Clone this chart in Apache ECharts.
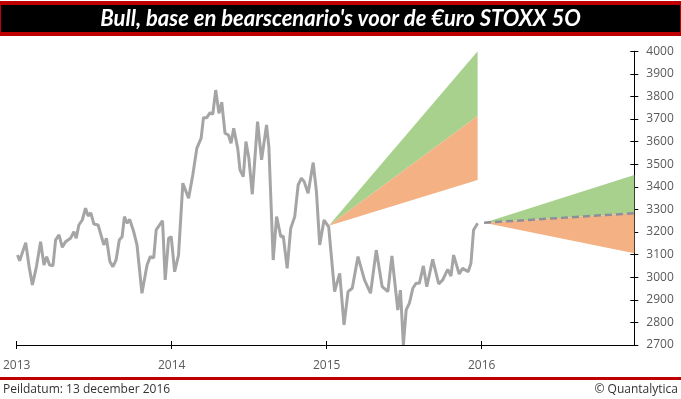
<!DOCTYPE html>
<html>
<head>
<meta charset="utf-8">
<script src="https://cdn.jsdelivr.net/npm/echarts@6/dist/echarts.min.js"></script>
<style>
  html, body { margin: 0; padding: 0; background: #fff; }
  #chart { width: 681px; height: 399px; }
</style>
</head>
<body>
<div id="chart"></div>
<script>
// historische koers (decimale jaren zoals op de as)
var histYears = [
  2013.005, 2013.019, 2013.058, 2013.080, 2013.101, 2013.127, 2013.154, 2013.176, 2013.193, 2013.212,
  2013.234, 2013.251, 2013.273, 2013.294, 2013.315, 2013.347, 2013.369, 2013.384, 2013.401, 2013.423,
  2013.444, 2013.461, 2013.478, 2013.498, 2013.525, 2013.547, 2013.562, 2013.579, 2013.601, 2013.620,
  2013.641, 2013.662, 2013.680, 2013.695, 2013.712, 2013.729, 2013.755, 2013.776, 2013.808, 2013.841,
  2013.862, 2013.884, 2013.900, 2013.941, 2013.958, 2013.980, 2013.997, 2014.019, 2014.044, 2014.072,
  2014.109, 2014.136, 2014.162, 2014.190, 2014.205, 2014.226, 2014.248, 2014.265, 2014.284, 2014.305,
  2014.323, 2014.344, 2014.366, 2014.383, 2014.400, 2014.426, 2014.441, 2014.462, 2014.479, 2014.498,
  2014.520, 2014.554, 2014.580, 2014.612, 2014.627, 2014.655, 2014.677, 2014.704, 2014.720, 2014.745,
  2014.768, 2014.794, 2014.816, 2014.837, 2014.855, 2014.880, 2014.913, 2014.934, 2014.955, 2014.983,
  2015.013, 2015.051, 2015.084, 2015.112, 2015.138, 2015.165, 2015.202, 2015.244, 2015.283, 2015.320,
  2015.358, 2015.395, 2015.421, 2015.459, 2015.476, 2015.495, 2015.513, 2015.534, 2015.556, 2015.577,
  2015.598, 2015.624, 2015.646, 2015.684, 2015.723, 2015.749, 2015.781, 2015.802, 2015.819, 2015.855,
  2015.877, 2015.913, 2015.931, 2015.948, 2015.974
];
var histValues = [
  3098, 3073, 3153, 3046, 2966, 3046, 3157, 3054, 3091, 3054,
  3051, 3165, 3187, 3132, 3157, 3172, 3201, 3172, 3231, 3253,
  3305, 3271, 3285, 3235, 3231, 3179, 3143, 3172, 3069, 3046,
  3076, 3165, 3179, 3268, 3239, 3256, 3201, 3143, 2929, 3054,
  3091, 3086, 3209, 3250, 2988, 3172, 3179, 3024, 3098, 3416,
  3349, 3452, 3570, 3615, 3706, 3706, 3728, 3721, 3828, 3725,
  3774, 3637, 3629, 3593, 3659, 3570, 3474, 3445, 3600, 3526,
  3367, 3688, 3519, 3674, 3577, 3076, 3268, 3179, 3182, 3039,
  3216, 3268, 3408, 3438, 3423, 3371, 3507, 3378, 3143, 3253,
  3223, 2936, 3017, 2789, 2936, 2951, 3091, 2988, 2929, 3120,
  2958, 2936, 3094, 2855, 2943, 2700, 2855, 2885, 2951, 2973,
  2973, 3050, 2958, 3079, 2970, 2988, 3035, 3005, 3098, 3014,
  3039, 3024, 3062, 3209, 3239
];

// scenario's vanaf begin 2015
var fan1Years = [2015.013, 2015.974];
var fan1Bull = [3228, 4000];
var fan1Base = [3228, 3713];
var fan1Bear = [3228, 3430];

// scenario's vanaf begin 2016
var fan2Years = [2016.016, 2016.985];
var fan2Bull = [3241, 3452];
var fan2Base = [3241, 3283];
var fan2Bear = [3241, 3106];

var yearTicks = [2013, 2014, 2015, 2016];

var GREEN = '#a9d18e';
var ORANGE = '#f4b183';
var GREY = '#a5a5a5';
var RED = '#c00000';
var FONT = 'Open Sans';

function pairs(xs, ys) {
  return xs.map(function (x, i) { return [x, ys[i]]; });
}

// vlak tussen twee scenariolijnen, hoekpunten via de assen van de grafiek
function band(xs, upper, lower, color) {
  return {
    type: 'custom',
    silent: true,
    z: 1,
    data: pairs(xs, upper),
    renderItem: function (params, api) {
      if (params.dataIndex !== 0) return null;
      var pts = [];
      for (var i = 0; i < xs.length; i++) pts.push(api.coord([xs[i], upper[i]]));
      for (var j = xs.length - 1; j >= 0; j--) pts.push(api.coord([xs[j], lower[j]]));
      return {
        type: 'polygon',
        shape: { points: pts },
        style: { fill: color, stroke: null }
      };
    }
  };
}

var chart = echarts.init(document.getElementById('chart'));

var series = [
  band(fan1Years, fan1Bull, fan1Base, GREEN),
  band(fan1Years, fan1Base, fan1Bear, ORANGE),
  band(fan2Years, fan2Bull, fan2Base, GREEN),
  band(fan2Years, fan2Base, fan2Bear, ORANGE),
  {
    type: 'line',
    data: pairs(fan2Years, fan2Base),
    symbol: 'none',
    silent: true,
    lineStyle: { color: '#8c8f99', width: 2.5, type: [7, 4] },
    z: 3
  },
  {
    type: 'line',
    data: pairs(histYears, histValues),
    symbol: 'none',
    silent: true,
    lineStyle: { color: GREY, width: 3 },
    z: 4
  }
];

chart.setOption({
  animation: false,
  textStyle: { fontFamily: FONT },
  grid: { left: 14.3, right: 46.7, top: 51.2, bottom: 54, containLabel: false },
  xAxis: [
    {
      type: 'value',
      min: 2013,
      max: 2016.985,
      splitLine: { show: false },
      axisLine: { show: true, onZero: false, lineStyle: { color: '#000', width: 1 } },
      axisTick: { show: true, length: 4, lineStyle: { color: '#000' }, customValues: yearTicks },
      axisLabel: { color: '#595959', fontSize: 12, fontFamily: FONT, margin: 15, customValues: yearTicks,
        formatter: function (v) { return String(v); } }
    },
    {
      type: 'value',
      position: 'bottom',
      min: 2013,
      max: 2016.985,
      splitLine: { show: false },
      axisLine: { show: false, onZero: false },
      axisTick: { show: true, inside: true, length: 4, lineStyle: { color: '#000' }, customValues: yearTicks },
      axisLabel: { show: false }
    }
  ],
  yAxis: [
    {
      type: 'value',
      position: 'right',
      min: 2700,
      max: 4000,
      interval: 100,
      splitLine: { show: false },
      axisLine: { show: true, onZero: false, lineStyle: { color: '#000', width: 1 } },
      axisTick: { show: true, length: 4, lineStyle: { color: '#000' } },
      axisLabel: { color: '#595959', fontSize: 12, fontFamily: FONT, margin: 12,
        formatter: function (v) { return String(v); } }
    },
    {
      type: 'value',
      position: 'right',
      min: 2700,
      max: 4000,
      interval: 100,
      splitLine: { show: false },
      axisLine: { show: false, onZero: false },
      axisTick: { show: true, inside: true, length: 4, lineStyle: { color: '#000' } },
      axisLabel: { show: false }
    }
  ],
  series: series,
  graphic: [
    { type: 'rect', left: 0, top: 1, shape: { width: 681, height: 35 }, style: { fill: RED }, silent: true },
    { type: 'rect', left: 1, top: 5, shape: { width: 679, height: 27 }, style: { fill: '#000' }, silent: true },
    {
      type: 'text', x: 340.5, y: 18.5, silent: true,
      style: {
        text: "Bull, base en bearscenario's voor de €uro STOXX 5O",
        fill: '#fff', font: 'italic bold 22px Lato',
        textAlign: 'center', textVerticalAlign: 'middle'
      }
    },
    { type: 'rect', left: 0, top: 377, shape: { width: 681, height: 3 }, style: { fill: RED }, silent: true },
    {
      type: 'text', x: 3, y: 390, silent: true,
      style: { text: 'Peildatum: 13 december 2016', fill: '#333', font: '12px "Open Sans"', textVerticalAlign: 'middle' }
    },
    {
      type: 'text', x: 678, y: 390, silent: true,
      style: { text: '© Quantalytica', fill: '#333', font: '12px "Open Sans"', textAlign: 'right', textVerticalAlign: 'middle' }
    }
  ]
});
</script>
</body>
</html>
